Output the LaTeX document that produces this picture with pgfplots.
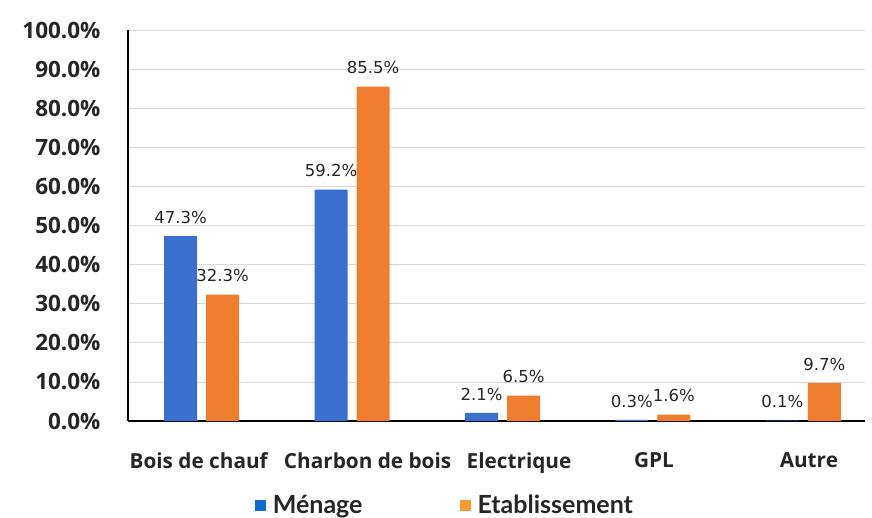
\documentclass[border=0pt]{standalone}
\usepackage{pgfplots}
\pgfplotsset{compat=1.18}
\usepackage{fontspec}
\setmainfont{Open Sans}
\newfontfamily\legfont{Lato}
\newfontfamily\dvfont{DejaVu Sans}
\definecolor{barblue}{HTML}{3A6FCF}
\definecolor{barorange}{HTML}{EE7D2D}
\definecolor{legblue}{HTML}{0B6BD1}
\definecolor{legorange}{HTML}{F89B36}
\definecolor{txt}{HTML}{262626}
\definecolor{gridc}{HTML}{D9D9D9}
\begin{document}
\begin{tikzpicture}[x=1bp,y=1bp]
\begin{axis}[
  scale only axis,
  width=737bp, height=391bp,
  ymin=0, ymax=100,
  xmin=-0.49, xmax=4.41,
  axis x line=bottom, axis y line=left,
  axis line style={-, black, line width=1.2bp},
  ytick={0,10,...,100},
  ymajorgrids, grid style={gridc, line width=0.8bp},
  xtick={-0.02,1.103,2.11,3.007,4.037},
  xticklabels={Bois de chauf, Charbon de bois, Electrique, GPL, Autre},
  major tick length=0pt,
  /pgf/number format/assume math mode=true,
  yticklabel={\pgfmathprintnumber[fixed,fixed zerofill,precision=1]{\tick}\%},
  yticklabel style={font=\fontsize{22.5bp}{26bp}\selectfont\bfseries, text=txt, xshift=-24bp},
  xticklabel style={font=\fontsize{20.75bp}{24bp}\selectfont\bfseries, text=txt, yshift=-28bp},
  ybar, bar width=33bp, 
  nodes near coords={\pgfmathprintnumber[fixed,fixed zerofill,precision=1]{\pgfplotspointmeta}\%},
  every node near coord/.append style={font=\fontsize{16.5bp}{20bp}\selectfont\dvfont, text=txt, yshift=9bp},
  legend style={at={(0.43,-0.215)}, anchor=center, draw=none, fill=none,
    legend columns=2, font=\fontsize{25bp}{29bp}\selectfont\legfont\bfseries, text=txt,
    /tikz/every odd column/.append style={column sep=5bp},
    /tikz/every even column/.append style={column sep=95bp}},
  legend image code/.code={\fill[#1] (0bp,-5.5bp) rectangle (11bp,5.5bp);},
]
\addplot[fill=barblue, draw=none, bar shift=-21bp, forget plot] coordinates {(0,47.3) (1,59.2) (2,2.1) (3,0.3) (4,0.1)};
\addplot[fill=barorange, draw=none, bar shift=21bp, forget plot] coordinates {(0,32.3) (1,85.5) (2,6.5) (3,1.6) (4,9.7)};
\addlegendimage{fill=legblue, draw=none}
\addlegendentry{Ménage}
\addlegendimage{fill=legorange, draw=none}
\addlegendentry{Etablissement}
\end{axis}
\pgfresetboundingbox
\path[use as bounding box] (-128bp,-97bp) rectangle (744bp,421bp);
\end{tikzpicture}
\end{document}
